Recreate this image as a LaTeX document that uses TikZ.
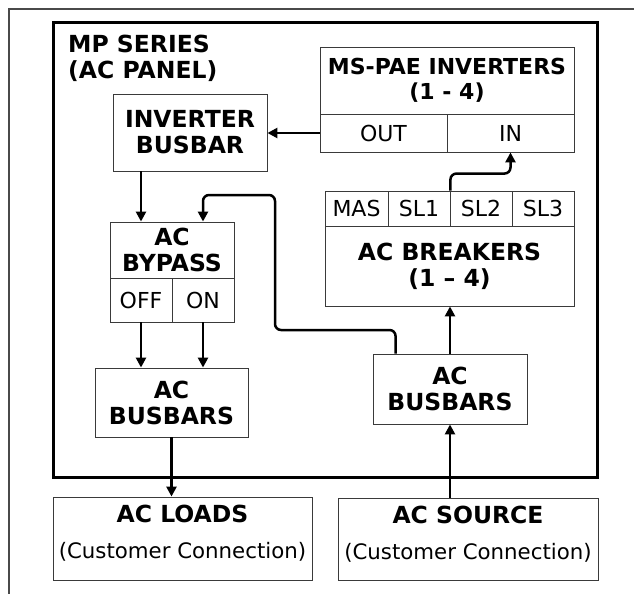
\documentclass[tikz,border=0pt]{standalone}
\usepackage{fontspec}
\setmainfont{DejaVu Sans}
\usetikzlibrary{arrows.meta,calc}
\definecolor{boxgray}{HTML}{3A3A3A}
\definecolor{framegray}{HTML}{4A4A4A}
\begin{document}
\begin{tikzpicture}[x=1pt,y=-1pt,
  box/.style={draw=boxgray, line width=0.9pt, inner sep=0pt, align=center, fill=white},
  bt/.style={font=\fontsize{23.5}{26}\selectfont\bfseries},
  btn/.style={font=\fontsize{22}{25}\selectfont\bfseries},
  rt/.style={font=\fontsize{22}{25}\selectfont},
  st/.style={font=\fontsize{21.3}{24}\selectfont},
  arr/.style={line width=2.5pt, -{Triangle[length=10pt,width=10pt]}, rounded corners=6pt},
  panelframe/.style={draw=black, line width=3pt, inner sep=0pt},
  outerline/.style={draw=framegray, line width=2.5pt}
]
\useasboundingbox (0,0) rectangle (634,594);
% outer frame (top and left only)
\draw[outerline] (634,9) -- (9,9) -- (9,594);
% panel frame
\node[panelframe, minimum width=544, minimum height=454] (panel) at (325,250) {};
\node[bt, anchor=north west, inner sep=0pt, align=left] (title) at (68,35) {MP SERIES\\(AC PANEL)};

% MS-PAE inverters
\node[box, btn, minimum width=254, minimum height=67] (invt) at (447,80.5) {MS-PAE INVERTERS\\(1 - 4)};
\node[box, rt, minimum width=127, minimum height=38] (out) at (383.5,133) {OUT};
\node[box, rt, minimum width=127, minimum height=38] (in) at (510.5,133) {IN};

% inverter busbar
\node[box, bt, minimum width=154, minimum height=77] (ibus) at (190,132.5) {INVERTER\\BUSBAR};

% AC breakers
\node[box, rt, minimum width=63, minimum height=35] (mas) at (356.5,208.5) {MAS};
\node[box, rt, minimum width=62, minimum height=35] (sl1) at (419,208.5) {SL1};
\node[box, rt, minimum width=62, minimum height=35] (sl2) at (481,208.5) {SL2};
\node[box, rt, minimum width=62, minimum height=35] (sl3) at (543,208.5) {SL3};
\node[box, bt, minimum width=249, minimum height=80] (brk) at (449.5,266) {AC BREAKERS\\(1 – 4)};

% AC bypass
\node[box, bt, minimum width=124, minimum height=56] (byp) at (172,250) {AC\\BYPASS};
\node[box, rt, minimum width=62, minimum height=44] (off) at (141,300) {OFF};
\node[box, rt, minimum width=62, minimum height=44] (on) at (203,300) {ON};

% busbars
\node[box, bt, minimum width=153, minimum height=69] (lbus) at (171.5,402.5) {AC\\BUSBARS};
\node[box, bt, minimum width=154, minimum height=70] (rbus) at (450,389) {AC\\BUSBARS};

% loads and source
\node[box, minimum width=259, minimum height=83] (loads) at (182.5,538.5) {};
\node[bt, anchor=base, inner sep=0pt] (loadst) at (182.5,522) {AC LOADS};
\node[st, anchor=base, inner sep=0pt] (loadss) at (182.5,558) {(Customer Connection)};
\node[box, minimum width=260, minimum height=82] (source) at (468,539) {};
\node[bt, anchor=base, inner sep=0pt] (sourcet) at (468,523) {AC SOURCE};
\node[st, anchor=base, inner sep=0pt] (sources) at (468,559) {(Customer Connection)};

% connectors
\draw[arr] (out.west) -- (out.west -| ibus.east);
\draw[arr] (ibus.south -| off) -- (byp.north -| off);
\draw[arr] (off.south) -- (off.south |- lbus.north);
\draw[arr] (on.south) -- (on.south |- lbus.north);
\draw[arr] (lbus.south) -- (lbus.south |- loads.north);
\draw[arr] (rbus.north) -- (rbus.north |- brk.south);
\draw[arr] (source.north -| rbus) -- (rbus.south);
\draw[arr] (sl1.north east) -- ++(0,-17) -| (in.south);
\coordinate (lpA) at (275,330);
\coordinate (lpB) at (275,195);
\draw[arr] ($(rbus.north west)+(23,0)$) |- (lpA) -- (lpB) -| (on.center |- byp.north);
\end{tikzpicture}
\end{document}
